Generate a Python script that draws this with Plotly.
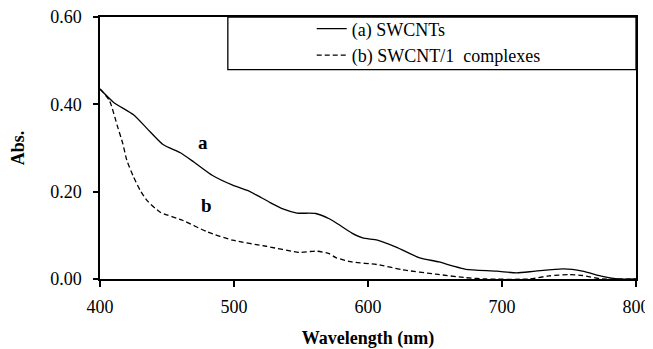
import plotly.graph_objects as go

# Wavelength (nm) and absorbance values
wl_a = [400, 410, 425, 435, 447, 460, 470, 484, 499, 510, 517, 527, 537, 547, 561, 571, 577,
        588, 596, 607, 621, 638, 653, 663, 673, 696, 711, 725, 746, 760, 775, 787, 800]
abs_a = [0.435, 0.405, 0.376, 0.345, 0.308, 0.289, 0.268, 0.237, 0.215, 0.203, 0.192, 0.175,
         0.160, 0.151, 0.150, 0.138, 0.127, 0.105, 0.094, 0.089, 0.073, 0.049, 0.039, 0.030,
         0.022, 0.018, 0.014, 0.018, 0.023, 0.018, 0.006, 0.0, 0.0]

wl_b = [400, 407, 413, 417, 420, 425, 430, 435, 445, 462, 480, 499, 524, 549, 561, 571, 576,
        588, 607, 626, 651, 673, 688, 720, 735, 750, 760, 775, 800]
abs_b = [0.435, 0.409, 0.35, 0.31, 0.272, 0.234, 0.203, 0.18, 0.153, 0.134, 0.108, 0.089,
         0.075, 0.061, 0.064, 0.058, 0.049, 0.039, 0.033, 0.021, 0.011, 0.003, 0.0, 0.0,
         0.007, 0.010, 0.008, 0.0, 0.0]

names = ["(a) SWCNTs", "(b) SWCNT/1  complexes"]
curve_labels = ["a", "b"]
label_x = [476.7, 479.7]
label_y = [0.313, 0.169]

x_ticks = [400, 500, 600, 700, 800]
y_ticks = [0.0, 0.2, 0.4, 0.6]

FONT = "Liberation Serif"

fig = go.Figure()
fig.add_trace(go.Scatter(x=wl_a, y=abs_a, mode="lines", name=names[0],
                         line=dict(color="black", width=1.3, shape="spline", smoothing=0.6)))
fig.add_trace(go.Scatter(x=wl_b, y=abs_b, mode="lines", name=names[1],
                         line=dict(color="black", width=1.3, dash="5px,3px", shape="spline", smoothing=0.6)))

for t, xx, yy in zip(curve_labels, label_x, label_y):
    fig.add_annotation(x=xx, y=yy, text=f"<b>{t}</b>", showarrow=False,
                       font=dict(family=FONT, size=19, color="black"))

# legend frame
fig.add_shape(type="rect", xref="paper", yref="paper", x0=0.2385, x1=1.0, y0=0.799, y1=1.0,
              line=dict(color="black", width=1.3), fillcolor="rgba(0,0,0,0)", layer="above")

# the page body adds an 8px offset, so the figure is 8px smaller and margins compensate
fig.update_layout(
    width=645, height=341,
    margin=dict(l=92, r=17, t=9, b=70, autoexpand=False),
    paper_bgcolor="white", plot_bgcolor="white",
    font=dict(family=FONT, size=18, color="black"),
    showlegend=True,
    legend=dict(x=0.395, y=1.025, xanchor="left", yanchor="top", bgcolor="rgba(0,0,0,0)",
                borderwidth=0, font=dict(family=FONT, size=18, color="black"),
                tracegroupgap=0),
    xaxis=dict(range=[400, 800], tickvals=x_ticks, ticktext=[str(v) for v in x_ticks],
               showline=True, linecolor="black", linewidth=1.5, mirror=True,
               ticks="outside", ticklen=6, tickwidth=1.5, tickcolor="black",
               showgrid=False, zeroline=False, ticklabelstandoff=5, automargin=False,
               ticklabeloverflow="allow",
               title=dict(text="<b>Wavelength (nm)</b>", font=dict(family=FONT, size=18), standoff=17)),
    yaxis=dict(range=[0, 0.6], tickvals=y_ticks, ticktext=[f"{v:.2f}" for v in y_ticks],
               showline=True, linecolor="black", linewidth=1.5, mirror=True,
               ticks="outside", ticklen=5, tickwidth=1.5, tickcolor="black",
               showgrid=False, zeroline=False, ticklabelstandoff=8, automargin=False,
               ticklabeloverflow="allow",
               title=dict(text="<b>Abs.</b>", font=dict(family=FONT, size=18), standoff=24)),
)

fig.write_html("out.html")
